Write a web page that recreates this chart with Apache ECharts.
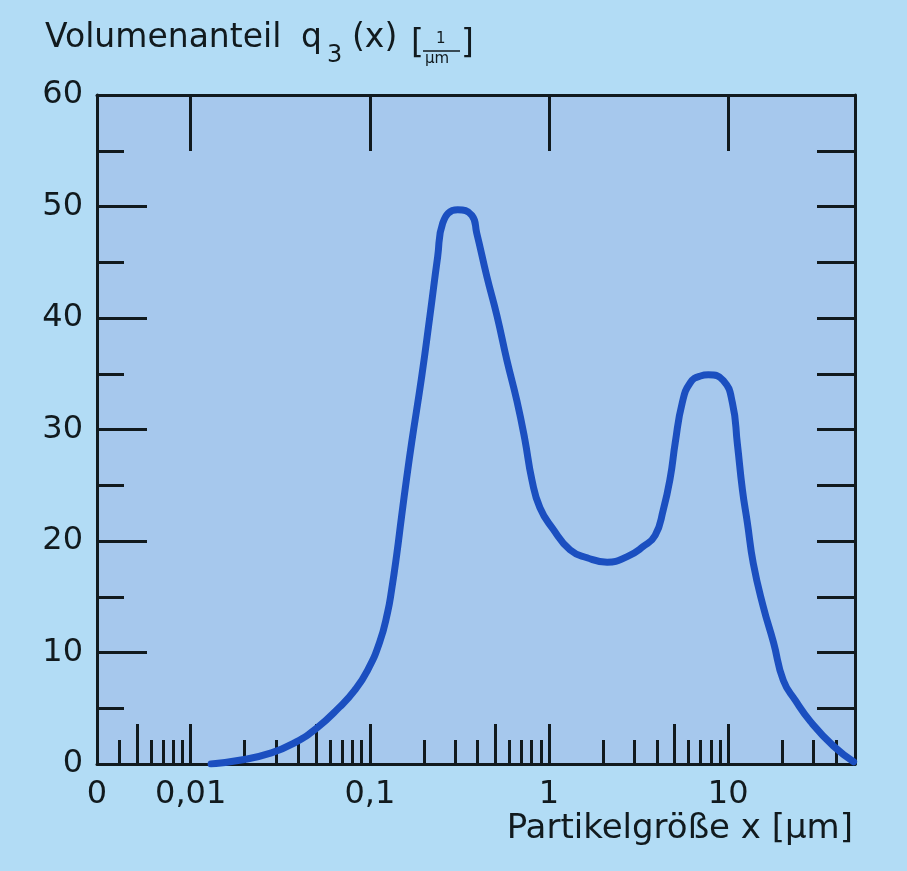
<!DOCTYPE html>
<html>
<head>
<meta charset="utf-8">
<title>Volumenanteil q3(x)</title>
<script src="https://cdn.jsdelivr.net/npm/echarts@6/dist/echarts.min.js"></script>
<style>
    html, body { margin: 0; padding: 0; background: #b2dcf5; }
    #chart { width: 907px; height: 871px; }
</style>
</head>
<body>
<div id="chart"></div>
<script>
// Partikelgröße x [µm] und Volumenanteil q3(x) [1/µm]
var sizes = [0.013, 0.0191, 0.0282, 0.0379, 0.0504, 0.0677, 0.0822, 0.0971, 0.1133, 0.1256,
    0.1322, 0.141, 0.1503, 0.1603, 0.171, 0.1945, 0.216, 0.239, 0.255, 0.309,
    0.371, 0.395, 0.45, 0.512, 0.582, 0.661, 0.733, 0.802, 0.889, 1.05,
    1.31, 1.63, 2.11, 2.73, 3.35, 3.91, 4.34, 4.75, 5.06, 5.54,
    6.14, 7.0, 7.74, 9.39, 10.55, 11.25, 12.0, 12.8, 13.8, 15.7,
    17.9, 20.3, 23.7, 28.8, 38.7, 50.1];
var q3 = [0, 0.36, 1.0, 1.9, 3.2, 5.1, 6.6, 8.4, 10.9, 13.6,
    15.6, 18.7, 22.2, 25.6, 28.8, 34.7, 40.1, 45.5, 48.5, 49.7,
    49.2, 47.6, 43.7, 40.2, 36.2, 32.6, 29.1, 25.5, 23.0, 21.1,
    19.2, 18.5, 18.1, 18.6, 19.5, 20.5, 22.8, 25.7, 28.8, 32.4,
    34.2, 34.8, 34.9, 34.4, 32.4, 28.7, 24.6, 21.6, 18.0, 14.1,
    10.9, 7.5, 5.7, 3.8, 1.6, 0.2];

// Achse
var xStart = 0.003, xEnd = 51;
var labelSizes = [0.003, 0.01, 0.1, 1, 10];
var labelTexts = ['0', '0,01', '0,1', '1', '10'];
var majorTicks = [0.005, 0.01, 0.05, 0.1, 0.5, 1, 5, 10];
var minorTicks = [0.004, 0.006, 0.007, 0.008, 0.009,
    0.02, 0.03, 0.04, 0.06, 0.07, 0.08, 0.09,
    0.2, 0.3, 0.4, 0.6, 0.7, 0.8, 0.9,
    2, 3, 4, 6, 7, 8, 9, 20, 30, 40];
var topTicks = [0.01, 0.1, 1, 10];

var lg = function (v) { return Math.log(v) / Math.LN10; };
var ink = '#111a1e';
var font = 'DejaVu Sans';

var myChart = echarts.init(document.getElementById('chart'));

var lineData = sizes.map(function (s, i) { return [lg(s), q3[i]]; });

function xAxisBase(pos) {
    return {
        type: 'value',
        position: pos,
        min: lg(xStart),
        max: lg(xEnd),
        splitLine: { show: false },
        axisLine: { show: false, onZero: false },
        axisLabel: { show: false },
        axisTick: { show: false }
    };
}

var xBottom = xAxisBase('bottom');
xBottom.axisLine = { show: true, onZero: false, lineStyle: { color: ink, width: 3 } };
xBottom.axisTick = {
    show: true, inside: true, length: 40,
    customValues: majorTicks.map(lg),
    lineStyle: { color: ink, width: 3 }
};
xBottom.axisLabel = {
    show: true,
    customValues: labelSizes.map(lg),
    margin: 15,
    color: ink,
    fontFamily: font,
    fontSize: 32,
    formatter: function (v) {
        var best = 0;
        labelSizes.forEach(function (s, i) {
            if (Math.abs(lg(s) - v) < Math.abs(lg(labelSizes[best]) - v)) best = i;
        });
        return labelTexts[best];
    }
};

var xMinor = xAxisBase('bottom');
xMinor.axisTick = {
    show: true, inside: true, length: 24,
    customValues: minorTicks.map(lg),
    lineStyle: { color: ink, width: 3 }
};

var xTop = xAxisBase('top');
xTop.axisLine = { show: true, onZero: false, lineStyle: { color: ink, width: 3 } };
xTop.axisTick = {
    show: true, inside: true, length: 56,
    customValues: topTicks.map(lg),
    lineStyle: { color: ink, width: 3 }
};

var option = {
    backgroundColor: '#b2dcf5',
    animation: false,
    grid: {
        left: 97, right: 52, top: 95, bottom: 107,
        show: true,
        backgroundColor: '#a6c8ed',
        borderWidth: 0
    },
    xAxis: [xBottom, xMinor, xTop],
    yAxis: [
        {
            type: 'value',
            position: 'left',
            min: 0, max: 60, interval: 10,
            splitLine: { show: false },
            axisLine: { show: true, onZero: false, lineStyle: { color: ink, width: 3 } },
            axisTick: { show: true, inside: true, length: 50, lineStyle: { color: ink, width: 3 } },
            minorTick: { show: true, splitNumber: 2, length: 27, lineStyle: { color: ink, width: 3 } },
            axisLabel: { color: ink, fontFamily: font, fontSize: 32, margin: 14 }
        },
        {
            type: 'value',
            position: 'right',
            min: 0, max: 60, interval: 5,
            splitLine: { show: false },
            axisLine: { show: true, onZero: false, lineStyle: { color: ink, width: 3 } },
            axisTick: { show: true, inside: true, length: 38, lineStyle: { color: ink, width: 3 } },
            axisLabel: { show: false }
        }
    ],
    graphic: [
        { type: 'text', left: 45, top: 22, style: { text: 'Volumenanteil', font: '33px "DejaVu Sans"', fill: ink } },
        { type: 'text', left: 301, top: 22, style: { text: 'q', font: '33px "DejaVu Sans"', fill: ink } },
        { type: 'text', left: 327, top: 44, style: { text: '3', font: '24px "DejaVu Sans"', fill: ink } },
        { type: 'text', left: 352, top: 22, style: { text: '(x)', font: '33px "DejaVu Sans"', fill: ink } },
        { type: 'text', left: 411, top: 28, style: { text: '[', font: '33px "DejaVu Sans"', fill: ink } },
        { type: 'text', left: 436, top: 32, style: { text: '1', font: '15px "DejaVu Sans"', fill: ink } },
        { type: 'line', shape: { x1: 423, y1: 51, x2: 460, y2: 51 }, style: { stroke: ink, lineWidth: 1.5 } },
        { type: 'text', left: 425, top: 52, style: { text: 'µm', font: '15px "DejaVu Sans"', fill: ink } },
        { type: 'text', left: 461, top: 28, style: { text: ']', font: '33px "DejaVu Sans"', fill: ink } },
        { type: 'text', right: 54, top: 812, style: { text: 'Partikelgröße x [µm]', font: '34px "DejaVu Sans"', fill: ink } }
    ],
    series: [{
        type: 'line',
        xAxisIndex: 0,
        yAxisIndex: 0,
        data: lineData,
        smooth: 0.5,
        showSymbol: false,
        lineStyle: { color: '#1b4fc0', width: 7, cap: 'round', join: 'round' }
    }]
};

myChart.setOption(option);
</script>
</body>
</html>
